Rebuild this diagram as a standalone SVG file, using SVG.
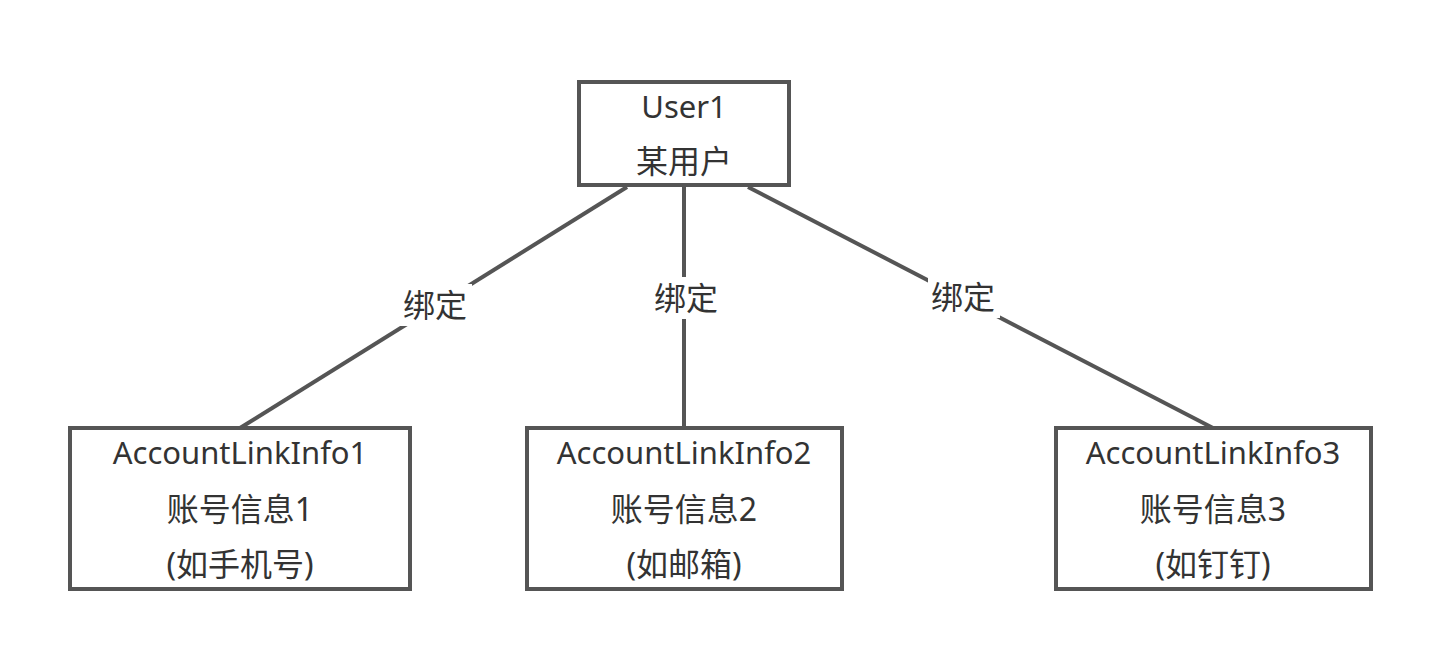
<svg xmlns="http://www.w3.org/2000/svg" width="1452" height="664" viewBox="0 0 1452 664">
<style>
.box{fill:#fff;stroke:#555;stroke-width:4}
.t{font-family:"Noto Sans","Noto Sans CJK SC",sans-serif;font-size:31px;fill:#333;text-anchor:middle}
.c{font-size:32px}
.edge{stroke:#555;stroke-width:4;fill:none}
.lb{fill:#fff}
</style>
<rect width="1452" height="664" fill="#fff"/>
<g id="connectors">
<line class="edge" x1="627" y1="187" x2="240" y2="428"/>
<line class="edge" x1="684" y1="187" x2="684" y2="428"/>
<line class="edge" x1="748" y1="187" x2="1213" y2="428"/>
<rect class="lb" x="400" y="284" width="72" height="42"/>
<text class="t c" x="435" y="317">绑定</text>
<rect class="lb" x="650" y="277" width="72" height="42"/>
<text class="t c" x="686" y="310">绑定</text>
<rect class="lb" x="928" y="276" width="72" height="42"/>
<text class="t c" x="963" y="309">绑定</text>
</g>
<g id="user1">
<rect class="box" x="579" y="82" width="210" height="103"/>
<text class="t" x="684" y="118">User1</text>
<text class="t c" x="684" y="173">某用户</text>
</g>
<g id="account1">
<rect class="box" x="70" y="428" width="340" height="161"/>
<text class="t" x="240" y="464">AccountLinkInfo1</text>
<text class="t c" x="240" y="521">账号信息1</text>
<text class="t c" x="240" y="576">(如手机号)</text>
</g>
<g id="account2">
<rect class="box" x="527" y="428" width="315" height="161"/>
<text class="t" x="684" y="464">AccountLinkInfo2</text>
<text class="t c" x="684" y="521">账号信息2</text>
<text class="t c" x="684" y="576">(如邮箱)</text>
</g>
<g id="account3">
<rect class="box" x="1056" y="428" width="315" height="161"/>
<text class="t" x="1213" y="464">AccountLinkInfo3</text>
<text class="t c" x="1213" y="521">账号信息3</text>
<text class="t c" x="1213" y="576">(如钉钉)</text>
</g>
</svg>
